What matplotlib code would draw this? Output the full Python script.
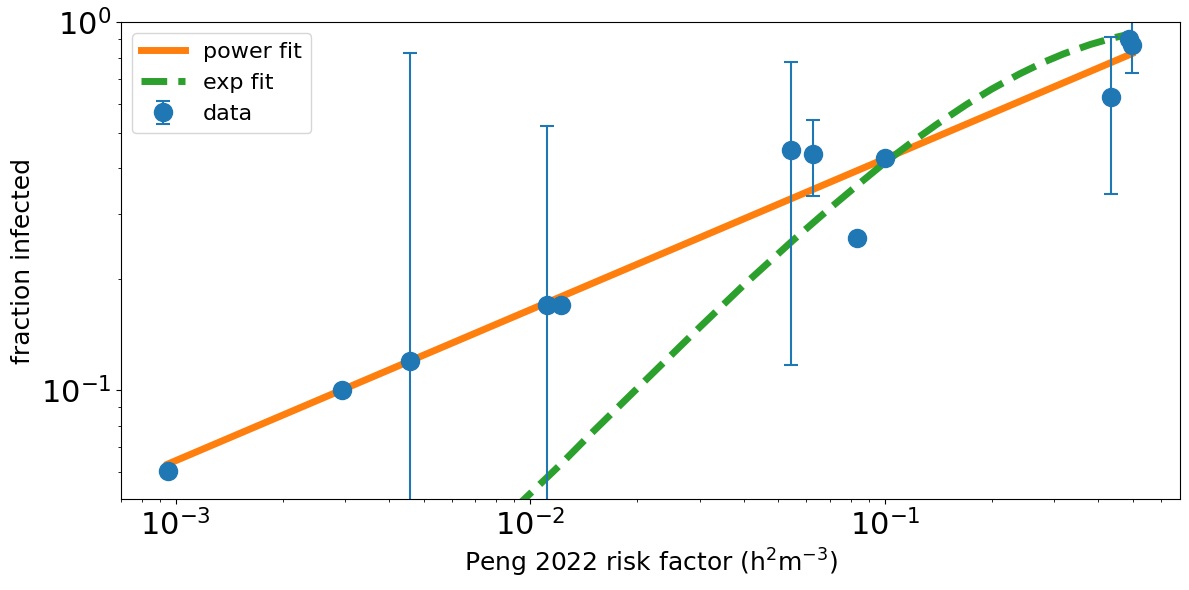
import matplotlib
matplotlib.use("Agg")
import matplotlib.pyplot as plt

# data points (log-log)
risk = [0.00095, 0.00294, 0.00457, 0.01116, 0.01216, 0.0544, 0.0625, 0.0834, 0.1, 0.434, 0.488, 0.497]
frac = [0.0603, 0.100, 0.120, 0.170, 0.170, 0.449, 0.438, 0.259, 0.427, 0.625, 0.899, 0.866]
err_lo = [0.0, 0.0, 0.119, 0.169, 0.0, 0.332, 0.101, 0.0, 0.0, 0.284, 0.0, 0.139]
err_hi = [0.0, 0.0, 0.704, 0.352, 0.0, 0.329, 0.104, 0.0, 0.0, 0.285, 0.0, 0.25]

# power fit line (straight in log-log), endpoints
pow_x = [0.00095, 0.497]
pow_y = [0.063, 0.82]

# exp fit curve
exp_x = [0.009, 0.0095, 0.012, 0.015, 0.02, 0.03, 0.04, 0.055, 0.07, 0.085, 0.1, 0.12, 0.14,
         0.17, 0.2, 0.24, 0.28, 0.32, 0.38, 0.44, 0.497]
exp_y = [0.047, 0.050, 0.062, 0.077, 0.101, 0.148, 0.193, 0.255, 0.312, 0.365, 0.415, 0.474, 0.527,
         0.597, 0.657, 0.723, 0.777, 0.820, 0.869, 0.905, 0.930]

fig = plt.figure(figsize=(11.89, 5.90), dpi=100)
ax = fig.add_axes([121/1189, 1 - 499/590, (1180-121)/1189, (499-22)/590])

ax.plot(pow_x, pow_y, color="tab:orange", lw=5, label="power fit")
ax.plot(exp_x, exp_y, color="tab:green", lw=5, ls="--", label="exp fit")
ax.errorbar(risk, frac, yerr=[err_lo, err_hi], fmt="o", color="tab:blue",
            ms=13, elinewidth=1.5, capsize=5, capthick=1.5, label="data")

ax.set_xscale("log")
ax.set_yscale("log")
ax.set_xlim(7.0e-4, 0.68)
ax.set_ylim(0.0506, 1.0)

ax.tick_params(axis="both", which="major", labelsize=22)
ax.set_xlabel("Peng 2022 risk factor (h$^2$m$^{-3}$)", fontsize=18)
ax.set_ylabel("fraction infected", fontsize=18)

handles, labels = ax.get_legend_handles_labels()
ax.legend(handles, labels, loc="upper left", fontsize=16)

fig.savefig("out.png", dpi=100)
